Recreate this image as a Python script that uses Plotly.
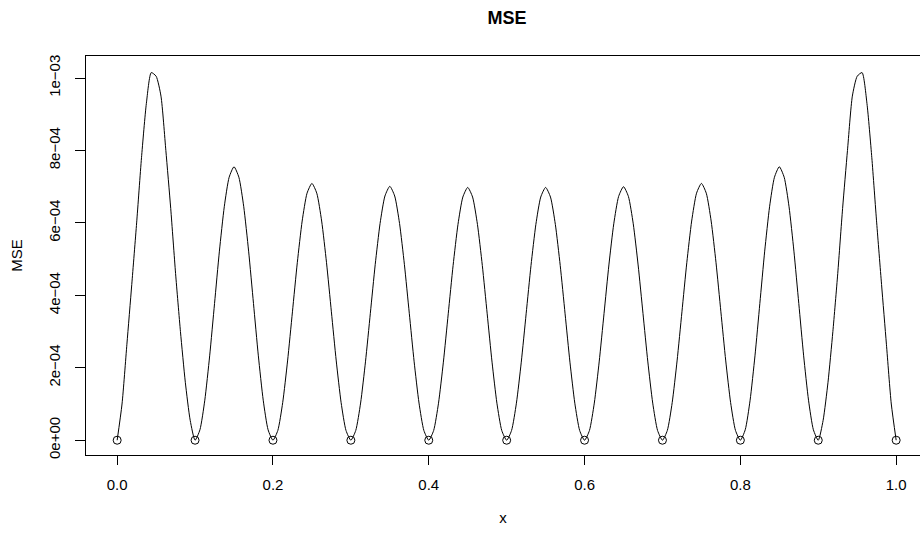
import plotly.graph_objects as go

knots = [0.0, 0.1, 0.2, 0.3, 0.4, 0.5, 0.6, 0.7, 0.8, 0.9, 1.0]
knot_mse = [0.0] * 11
samples_per_interval = 16
MSE_UNIT = 1e-3  # values below are in units of 1e-3

bump_values = [
    [0, 0.10, 0.265, 0.43, 0.60, 0.78, 0.93, 1.015, 1.005, 0.95, 0.80, 0.64, 0.46, 0.30, 0.16, 0.055],
    [0, 0.0288, 0.1105, 0.233, 0.3775, 0.522, 0.6445, 0.726, 0.755, 0.726, 0.6445, 0.522, 0.3775, 0.233, 0.1105, 0.0288],
    [0, 0.027, 0.1038, 0.2189, 0.3545, 0.4901, 0.6052, 0.682, 0.709, 0.682, 0.6052, 0.4901, 0.3545, 0.2189, 0.1038, 0.027],
    [0, 0.0267, 0.1026, 0.2164, 0.3505, 0.4846, 0.5984, 0.6743, 0.701, 0.6743, 0.5984, 0.4846, 0.3505, 0.2164, 0.1026, 0.0267],
    [0, 0.0266, 0.1022, 0.2155, 0.349, 0.4825, 0.5958, 0.6714, 0.698, 0.6714, 0.5958, 0.4825, 0.349, 0.2155, 0.1022, 0.0266],
    [0, 0.0266, 0.1022, 0.2155, 0.349, 0.4825, 0.5958, 0.6714, 0.698, 0.6714, 0.5958, 0.4825, 0.349, 0.2155, 0.1022, 0.0266],
    [0, 0.0267, 0.1025, 0.2161, 0.35, 0.4839, 0.5975, 0.6733, 0.700, 0.6733, 0.5975, 0.4839, 0.35, 0.2161, 0.1025, 0.0267],
    [0, 0.027, 0.1038, 0.2189, 0.3545, 0.4901, 0.6052, 0.682, 0.709, 0.682, 0.6052, 0.4901, 0.3545, 0.2189, 0.1038, 0.027],
    [0, 0.0288, 0.1105, 0.233, 0.3775, 0.522, 0.6445, 0.726, 0.755, 0.726, 0.6445, 0.522, 0.3775, 0.233, 0.1105, 0.0288],
    [0, 0.055, 0.16, 0.30, 0.46, 0.64, 0.80, 0.95, 1.005, 1.015, 0.93, 0.78, 0.60, 0.43, 0.265, 0.10],
]
end_value = 0.0

x_ticks = [0.0, 0.2, 0.4, 0.6, 0.8, 1.0]
x_ticklabels = ["0.0", "0.2", "0.4", "0.6", "0.8", "1.0"]
y_ticks = [0.0, 2e-4, 4e-4, 6e-4, 8e-4, 1e-3]
y_ticklabels = ["0e+00", "2e\u221204", "4e\u221204", "6e\u221204", "8e\u221204", "1e\u221203"]

curve_x, curve_y = [], []
for i, vals in enumerate(bump_values):
    width = knots[i + 1] - knots[i]
    for k, v in enumerate(vals):
        curve_x.append(knots[i] + width * k / samples_per_interval)
        curve_y.append(v * MSE_UNIT)
curve_x.append(knots[-1])
curve_y.append(end_value)

FONT = "Liberation Sans, Arial, Helvetica, sans-serif"

fig = go.Figure()
fig.add_trace(go.Scatter(
    x=curve_x, y=curve_y, mode="lines",
    line=dict(color="black", width=1, shape="spline", smoothing=0.6),
    hoverinfo="skip", showlegend=False,
))
fig.add_trace(go.Scatter(
    x=knots, y=knot_mse, mode="markers",
    marker=dict(symbol="circle-open", size=8, color="black", line=dict(width=1, color="black")),
    showlegend=False,
))

fig.update_layout(
    width=920, height=533,
    margin=dict(l=86, r=0, t=56, b=78),
    paper_bgcolor="white", plot_bgcolor="white",
    font=dict(family=FONT, size=15, color="black"),
    title=dict(text="<b>MSE</b>", x=507 / 920, xref="container", xanchor="center",
               y=1 - 18 / 533, yref="container", yanchor="middle",
               font=dict(family=FONT, size=18, color="black")),
    xaxis=dict(
        range=[-0.04, -0.04 + 834 / 779], tickvals=x_ticks, ticktext=x_ticklabels,
        ticks="outside", ticklen=9, tickwidth=1, tickcolor="black",
        ticklabelstandoff=7,
        showline=True, linecolor="black", linewidth=1, mirror=True,
        showgrid=False, zeroline=False,
        title=dict(text="x", standoff=20, font=dict(family=FONT, size=15)),
        tickfont=dict(family=FONT, size=15),
    ),
    yaxis=dict(
        range=[-0.0408e-3, 1.0608e-3], tickvals=y_ticks, ticktext=y_ticklabels,
        ticks="outside", ticklen=10, tickwidth=1, tickcolor="black", tickangle=-90,
        ticklabelstandoff=9,
        showline=True, linecolor="black", linewidth=1, mirror=False,
        showgrid=False, zeroline=False,
        title=dict(text="MSE", standoff=19, font=dict(family=FONT, size=15)),
        tickfont=dict(family=FONT, size=15),
    ),
)

fig.write_html("out.html")
